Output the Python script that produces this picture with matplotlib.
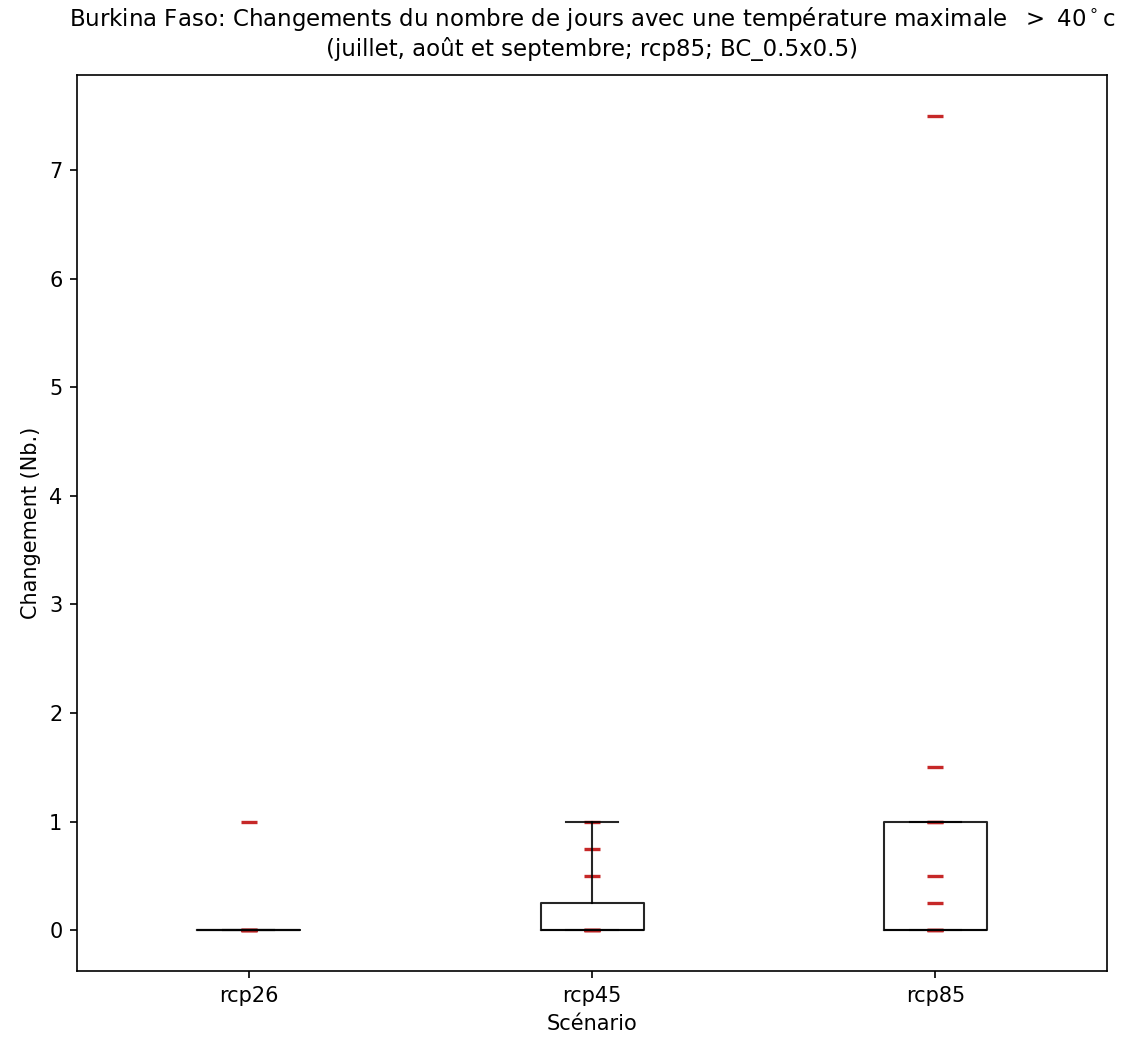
import numpy as np
import matplotlib
matplotlib.use('Agg')
import matplotlib.pyplot as plt

# scenarios and per-model changes (number of days)
scenarios = ['rcp26', 'rcp45', 'rcp85']
rcp26_vals = [0, 0, 0, 0, 0, 1]
rcp45_vals = [0, 0, 0, 0, 0.5, 0.75, 1]
rcp85_vals = [0, 0, 0, 0.25, 0.5, 1, 1, 1.5, 7.5]

# box statistics as drawn in the reference
q1 = [0, 0, 0]
med = [0, 0, 0]
q3 = [0, 0.25, 1]
whislo = [0, 0, 0]
whishi = [0, 1, 1]

title = ('Burkina Faso: Changements du nombre de jours avec une température maximale  $>$ 40$^\\circ$c\n'
         '(juillet, août et septembre; rcp85; BC_0.5x0.5)')


def main():
    fig = plt.figure(figsize=(1123 / 150, 1041 / 150), dpi=150)
    ax = fig.add_axes([77 / 1123, 1 - 971 / 1041, (1107 - 77) / 1123, (971 - 75) / 1041])

    stats = []
    for i, name in enumerate(scenarios):
        stats.append(dict(label=name, q1=q1[i], med=med[i], q3=q3[i],
                          whislo=whislo[i], whishi=whishi[i], fliers=[]))

    # individual model values as red dashes
    for i, vals in enumerate([rcp26_vals, rcp45_vals, rcp85_vals]):
        ax.plot(np.full(len(vals), i + 1), vals, ls='none', marker='_',
                ms=7.7, mew=1.6, color='#c62828', zorder=2)

    # semi-transparent black box on top of the points
    lp = dict(color='black', alpha=0.85)
    ax.bxp(stats, positions=[1, 2, 3], widths=0.3, showfliers=False,
           boxprops=lp, whiskerprops=lp, capprops=lp, medianprops=lp, zorder=3)

    ax.set_xlim(0.5, 3.5)
    ax.set_ylim(-0.375, 7.875)
    ax.set_xlabel('Scénario')
    ax.set_ylabel('Changement (Nb.)')
    ax.set_title(title, fontsize=11, pad=9)

    fig.savefig('out.png', dpi=150)


if __name__ == '__main__':
    main()
